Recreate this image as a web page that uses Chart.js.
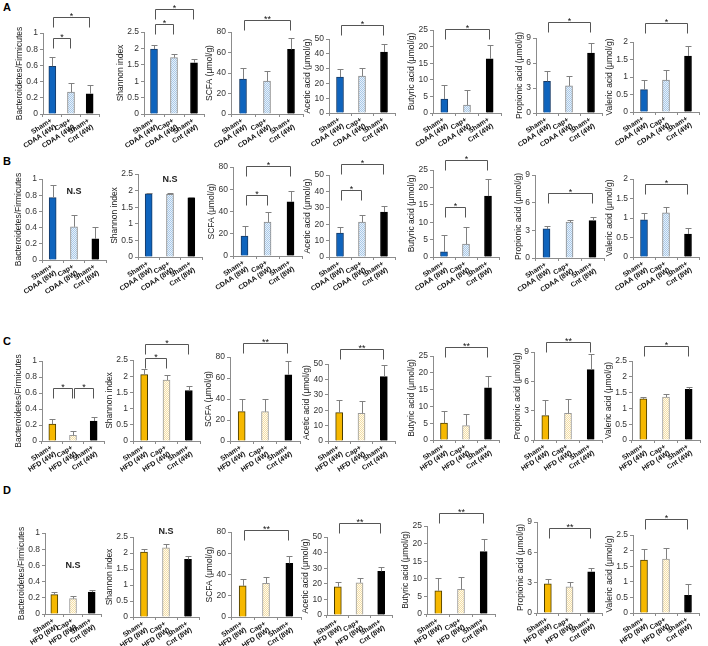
<!DOCTYPE html>
<html>
<head>
<meta charset="utf-8">
<script src="https://cdn.jsdelivr.net/npm/chart.js@4.4.1/dist/chart.umd.min.js"></script>
<style>
  body { margin: 0; width: 708px; height: 646px; overflow: hidden; position: relative; background: #fff; }
  .panel { position: absolute; }
  .tag { position: absolute; font: bold 11px Arial, "Liberation Sans", sans-serif; color: #000; line-height: 11px; }
</style>
</head>
<body>
<div class="tag" style="left:3px;top:2px">A</div>
<div class="tag" style="left:3px;top:156px">B</div>
<div class="tag" style="left:3px;top:336px">C</div>
<div class="tag" style="left:3px;top:485px">D</div>
<script>
// ---- data ----
const yTitles = ['Bacteroidetes/Firmicutes', 'Shannon index', 'SCFA (μmol/g)', 'Acetic acid (μmol/g)',
  'Butyric acid (μmol/g)', 'Propionic acid (μmol/g)', 'Valeric acid (μmol/g)'];

const yMaxCDAA = [1, 2.5, 80, 50, 25, 9, 2];
const yMaxHFD = [1, 2.5, 80, 50, 25, 9, 2.5];
const yStep = [0.2, 0.5, 20, 10, 5, 3, 0.5];

const labelsA = [['Sham+', 'CDAA (4W)'], ['Cap+', 'CDAA (4W)'], ['Sham+', 'Cnt (4W)']];
const labelsB = [['Sham+', 'CDAA (8W)'], ['Cap+', 'CDAA (8W)'], ['Sham+', 'Cnt (8W)']];
const labelsC = [['Sham+', 'HFD (4W)'], ['Cap+', 'HFD (4W)'], ['Sham+', 'Cnt (4W)']];
const labelsD = [['Sham+', 'HFD (8W)'], ['Cap+', 'HFD (8W)'], ['Sham+', 'Cnt (8W)']];

// mean values, one row of 3 groups per panel
const meansA = [[0.59, 0.27, 0.25], [1.98, 1.72, 1.56], [34, 32, 63], [24.3, 25, 41.2], [4.2, 2.4, 16.3], [3.8, 3.25, 7.2], [0.64, 0.91, 1.6]];
const sdA = [[0.11, 0.11, 0.11], [0.12, 0.11, 0.11], [11, 10, 11], [5.4, 5.7, 5.4], [4.2, 4.5, 4.2], [1.2, 1.2, 1.2], [0.28, 0.29, 0.29]];
const meansB = [[0.77, 0.41, 0.26], [1.9, 1.89, 1.78], [18, 30.6, 48.6], [14.6, 21.3, 27.4], [1.5, 3.7, 17.5], [3.15, 3.9, 4.05], [0.95, 1.13, 0.59]];
const sdB = [[0.15, 0.15, 0.15], [0.03, 0.03, 0.03], [9, 9, 10], [3.6, 4.3, 3.6], [4.8, 4.9, 4.9], [0.3, 0.2, 0.35], [0.17, 0.15, 0.15]];
const meansC = [[0.21, 0.07, 0.25], [2.05, 1.88, 1.56], [28, 28, 63], [18.4, 18, 41.8], [5, 4.3, 15.5], [2.5, 2.74, 7.2], [1.3, 1.36, 1.6]];
const sdC = [[0.06, 0.055, 0.055], [0.17, 0.15, 0.15], [12, 12, 13], [8.2, 8, 7.6], [3.5, 3.5, 3.5], [1.55, 1.5, 1.55], [0.07, 0.09, 0.08]];
const meansD = [[0.24, 0.19, 0.27], [2.03, 2.16, 1.8], [29.3, 31.8, 50.5], [18.1, 20.7, 28], [6.6, 7, 17.7], [2.88, 2.6, 4.08], [1.7, 1.73, 0.57]];
const sdD = [[0.03, 0.03, 0.025], [0.1, 0.11, 0.12], [6.7, 6.2, 6.8], [3.2, 2.8, 3], [3.7, 3.6, 3.6], [0.45, 0.5, 0.42], [0.35, 0.36, 0.37]];

// significance brackets: [from group, to group, level (y value), mark]
const sigA = [[[0, 1, 0.94, '*'], [0, 2, 1.2, '*']], [[0, 1, 2.74, '*'], [0, 2, 3.2, '*']], [[0, 2, 92, '**']],
  [[0, 2, 59.5, '*']], [[0, 2, 25.3, '*']], [[0, 2, 10.9, '*']], [[0, 2, 2.54, '*']]];
const sigB = [[], [], [[0, 1, 55, '*'], [0, 2, 81, '*']], [[0, 1, 40.8, '*'], [0, 2, 56.7, '*']],
  [[0, 1, 14.4, '*'], [0, 2, 27.9, '*']], [[0, 2, 7.1, '*']], [[0, 2, 1.87, '*']]];
const sigC = [[[0, 1, 0.66, '*'], [1, 2, 0.66, '*']], [[0, 1, 2.55, '*'], [0, 2, 2.99, '*']], [[0, 2, 93.8, '**']],
  [[0, 2, 59.7, '**']], [[0, 2, 27.8, '**']], [[0, 2, 10.0, '**']], [[0, 2, 2.96, '*']]];
const sigD = [[], [], [[0, 2, 81.6, '**']], [[0, 2, 59, '**']], [[0, 2, 28.6, '**']], [[0, 2, 8.4, '**']], [[0, 2, 3.0, '*']]];

// "N.S" notes: [group, level]
const nsB = [[1, 0.84], [1, 2.32], null, null, null, null, null];
const nsD = [[1, 0.6], [1, 2.68], null, null, null, null, null];

// ---- layout (pixel boxes of each plot area: axis x, width, top tick y, zero y) ----
const boxA = { x: [43, 144, 231, 329, 433, 536, 633], w: [56, 60, 72, 66, 68, 66, 66], top: [33, 32, 32, 39, 30, 38, 42], bottom: [114, 114, 114, 113, 113, 113, 112] };
const boxB = { x: [42, 138, 233, 329, 433, 535, 633], w: [64, 64, 69, 66, 66, 69, 66], top: [179, 174, 167, 175, 170, 175, 179], bottom: [260, 257, 256, 257, 257, 258, 257] };
const boxC = { x: [42, 133, 230, 328, 433, 534, 632], w: [62, 67, 70, 67, 66, 68, 68], top: [361, 360, 357, 364, 356, 352, 361], bottom: [441, 441, 441, 441, 440, 440, 440] };
const boxD = { x: [45, 133, 231, 327, 427, 537, 633], w: [56, 66, 70, 65, 68, 65, 66], top: [533, 537, 532, 537, 526, 522, 535], bottom: [614, 617, 617, 615, 614, 613, 613] };

const PAD_L = 50, PAD_T = 40, PAD_B = 48, PAD_R = 6;
const FONT = 'Arial, "Liberation Sans", sans-serif';
Chart.defaults.font.family = FONT;

const makePattern = (base, dot) => {
  const c = document.createElement('canvas');
  c.width = 2; c.height = 2;
  const g = c.getContext('2d');
  g.fillStyle = base; g.fillRect(0, 0, 2, 2);
  g.fillStyle = dot; g.fillRect(0, 0, 1, 1); g.fillRect(1, 1, 1, 1);
  return g.createPattern(c, 'repeat');
};

const blueFills = ['#0f64bd', makePattern('#e8f1fa', '#a9c9e8'), '#000'];
const blueEdges = ['#173a66', '#8a8a8a', '#000'];
const yellowFills = ['#f6b800', makePattern('#fffaf0', '#f3dfa6'), '#000'];
const yellowEdges = ['#4a3c00', '#9a9a9a', '#000'];

const extras = (p) => ({
  id: 'extras',
  afterDatasetsDraw(chart) {
    const ctx = chart.ctx, y = chart.scales.y;
    const meta = chart.getDatasetMeta(0);
    ctx.save();
    ctx.strokeStyle = '#808080';
    ctx.lineWidth = 1;
    meta.data.forEach((bar, i) => {
      const cx = Math.round(bar.x) + 0.5;
      const y0 = y.getPixelForValue(p.means[i]);
      const y1 = Math.round(y.getPixelForValue(p.means[i] + p.sd[i])) + 0.5;
      ctx.beginPath();
      ctx.moveTo(cx, y0); ctx.lineTo(cx, y1);
      ctx.moveTo(cx - 3, y1); ctx.lineTo(cx + 3, y1);
      ctx.stroke();
    });
    ctx.restore();
  },
  afterDraw(chart) {
    const ctx = chart.ctx, x = chart.scales.x, y = chart.scales.y, area = chart.chartArea;
    ctx.save();
    // brackets
    ctx.strokeStyle = '#555';
    ctx.lineWidth = 1;
    ctx.fillStyle = '#111';
    ctx.font = '9px ' + FONT;
    ctx.textAlign = 'center';
    ctx.textBaseline = 'alphabetic';
    p.sig.forEach(([a, b, lvl, mark]) => {
      const x1 = Math.round(x.getPixelForValue(a)) + 1.5;
      const x2 = Math.round(x.getPixelForValue(b)) - 0.5;
      const yy = Math.round(y.getPixelForValue(lvl)) + 0.5;
      ctx.beginPath();
      ctx.moveTo(x1, yy + 10); ctx.lineTo(x1, yy); ctx.lineTo(x2, yy); ctx.lineTo(x2, yy + 10);
      ctx.stroke();
      ctx.fillText(mark, (x1 + x2) / 2, yy + 1);
    });
    if (p.ns) {
      ctx.font = 'bold 9px ' + FONT;
      ctx.textBaseline = 'middle';
      ctx.fillStyle = '#222';
      ctx.fillText('N.S', x.getPixelForValue(p.ns[0]), y.getPixelForValue(p.ns[1]));
    }
    // rotated category labels
    ctx.font = 'bold 7px ' + FONT;
    ctx.fillStyle = '#111';
    ctx.textAlign = 'right';
    ctx.textBaseline = 'middle';
    p.labels.forEach((lines, i) => {
      ctx.save();
      ctx.translate(x.getPixelForValue(i) - 1, area.bottom + 6);
      ctx.rotate(-33 * Math.PI / 180);
      lines.forEach((t, k) => ctx.fillText(t, 0, k * 7.5));
      ctx.restore();
    });
    // y title next to tick labels
    ctx.font = '8.5px ' + FONT;
    const tickW = Math.max(...y.ticks.map((t) => ctx.measureText(String(t.label)).width));
    ctx.fillStyle = '#222';
    ctx.textAlign = 'center';
    ctx.textBaseline = 'middle';
    ctx.translate(area.left - 5 - tickW - 7, (area.top + area.bottom) / 2);
    ctx.rotate(-Math.PI / 2);
    ctx.fillText(p.title, 0, 0);
    ctx.restore();
  },
});

const buildPanel = (p) => {
  const wrap = document.createElement('div');
  wrap.className = 'panel';
  wrap.style.left = (p.x - PAD_L) + 'px';
  wrap.style.top = (p.top - PAD_T) + 'px';
  const cv = document.createElement('canvas');
  cv.width = PAD_L + p.w + PAD_R;
  cv.height = PAD_T + (p.bottom - p.top) + PAD_B;
  cv.style.width = cv.width + 'px';
  cv.style.height = cv.height + 'px';
  wrap.appendChild(cv);
  document.body.appendChild(wrap);

  new Chart(cv, {
    type: 'bar',
    data: {
      labels: p.labels.map((l) => l.join(' ')),
      datasets: [{
        data: p.means,
        backgroundColor: p.fills,
        borderColor: p.edges,
        borderWidth: 1,
        barThickness: 7,
      }],
    },
    options: {
      responsive: false,
      animation: false,
      events: [],
      layout: { padding: { top: PAD_T, right: PAD_R, bottom: PAD_B, left: 0 } },
      plugins: { legend: { display: false }, tooltip: { enabled: false } },
      scales: {
        x: {
          ticks: { display: false },
          grid: { drawOnChartArea: false, tickLength: 3, color: '#8c8c8c' },
          border: { color: '#8c8c8c' },
          afterFit: (s) => { s.height = 0; },
        },
        y: {
          min: 0,
          max: p.yMax,
          ticks: {
            stepSize: p.step,
            font: { size: 8.5 },
            color: '#333',
            padding: 2,
            // plain numbers: 0, 0.2, 1, 2.5
            callback: (v) => String(Math.round(v * 100) / 100),
          },
          grid: { drawOnChartArea: false, tickLength: 3, color: '#8c8c8c' },
          border: { color: '#8c8c8c' },
          afterFit: (s) => { s.width = PAD_L; },
        },
      },
    },
    plugins: [extras(p)],
  });
};

const rows = [
  { labels: labelsA, means: meansA, sd: sdA, sig: sigA, ns: [], yMax: yMaxCDAA, fills: blueFills, edges: blueEdges, box: boxA },
  { labels: labelsB, means: meansB, sd: sdB, sig: sigB, ns: nsB, yMax: yMaxCDAA, fills: blueFills, edges: blueEdges, box: boxB },
  { labels: labelsC, means: meansC, sd: sdC, sig: sigC, ns: [], yMax: yMaxHFD, fills: yellowFills, edges: yellowEdges, box: boxC },
  { labels: labelsD, means: meansD, sd: sdD, sig: sigD, ns: nsD, yMax: yMaxHFD, fills: yellowFills, edges: yellowEdges, box: boxD },
];

rows.forEach((r) => {
  for (let i = 0; i < 7; i++) {
    buildPanel({
      title: yTitles[i],
      labels: r.labels,
      means: r.means[i],
      sd: r.sd[i],
      sig: r.sig[i],
      ns: r.ns[i] || null,
      yMax: r.yMax[i],
      step: yStep[i],
      fills: r.fills,
      edges: r.edges,
      x: r.box.x[i],
      w: r.box.w[i],
      top: r.box.top[i],
      bottom: r.box.bottom[i],
    });
  }
});
</script>
</body>
</html>
